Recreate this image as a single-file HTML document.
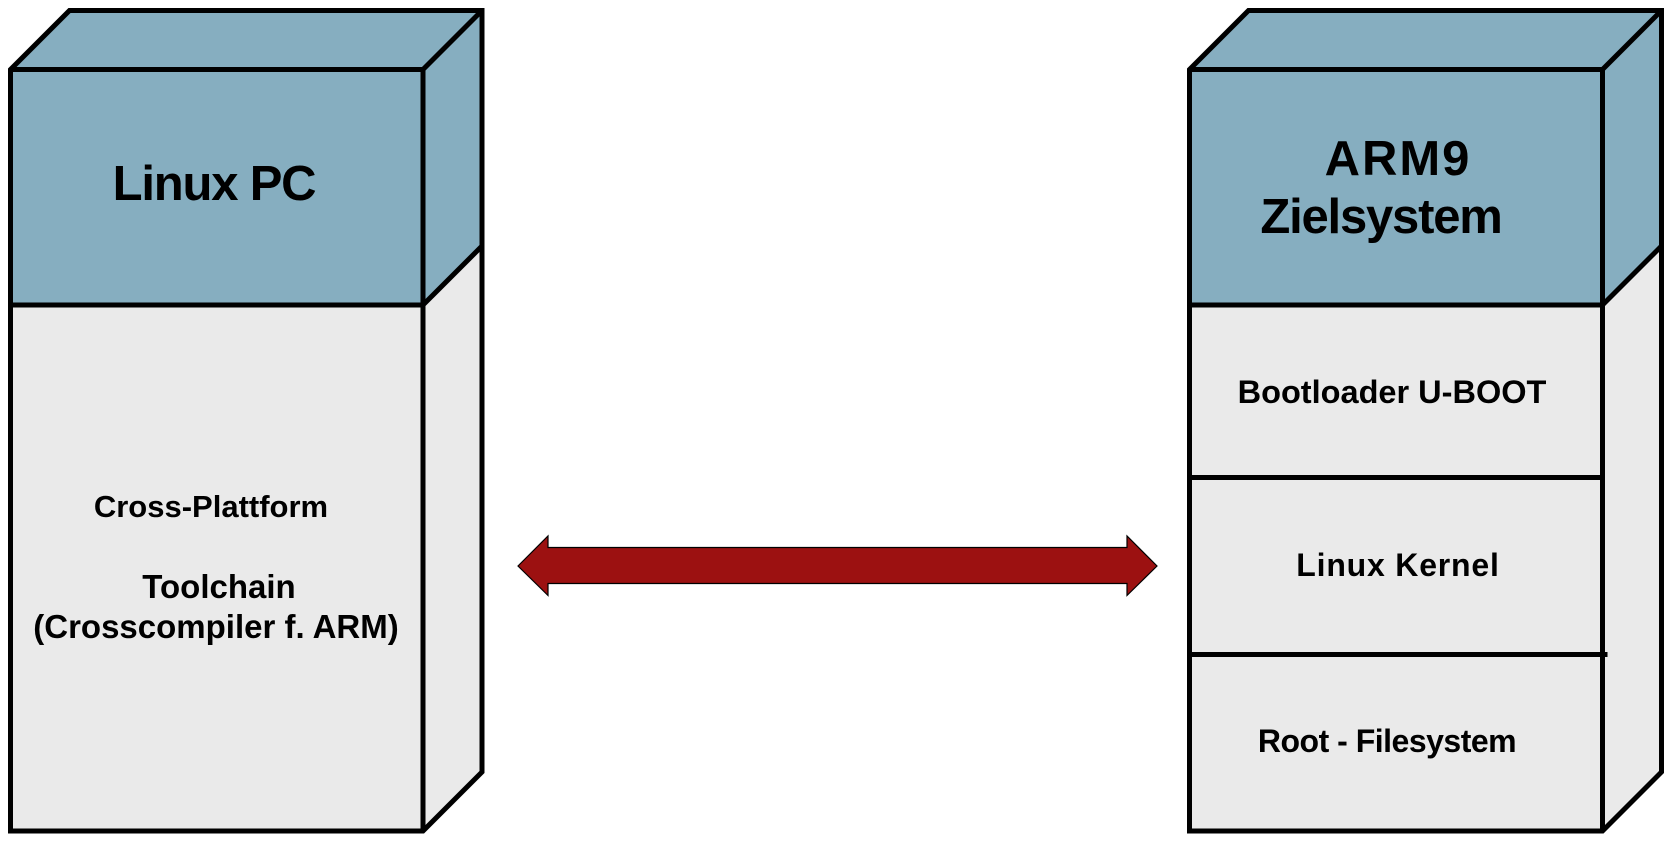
<!DOCTYPE html>
<html>
<head>
<meta charset="utf-8">
<style>
  html, body { margin: 0; padding: 0; background: #ffffff; }
  body { width: 1674px; height: 841px; overflow: hidden; }
  svg { display: block; }
  text { font-family: "Liberation Sans", Arial, sans-serif; font-weight: bold; fill: #000; }
</style>
</head>
<body>
<svg width="1674" height="841" viewBox="0 0 1674 841" xmlns="http://www.w3.org/2000/svg">
  <!-- ================= LEFT BOX: Linux PC ================= -->
  <g>
    <rect x="10.5" y="305" width="412.5" height="526" fill="#eaeaea"/>
    <rect x="10.5" y="69.5" width="412.5" height="235.5" fill="#86aec0"/>
    <polygon points="10.5,69.5 69.5,10.5 482,10.5 423,69.5" fill="#86aec0"/>
    <polygon points="423,69.5 482,10.5 482,246 423,305" fill="#86aec0"/>
    <polygon points="423,305 482,246 482,772 423,831" fill="#eaeaea"/>
    <g fill="none" stroke="#000" stroke-width="5" stroke-linejoin="miter">
      <polygon points="10.5,69.5 69.5,10.5 482,10.5 482,772 423,831 10.5,831"/>
      <polyline points="10.5,69.5 423,69.5 482,10.5"/>
      <line x1="423" y1="69.5" x2="423" y2="831"/>
      <line x1="10.5" y1="305" x2="423" y2="305"/>
      <line x1="423" y1="305" x2="482" y2="246"/>
    </g>
    <text x="214" y="200" font-size="49" letter-spacing="-1.2" text-anchor="middle">Linux PC</text>
    <text x="211" y="517" font-size="31" text-anchor="middle">Cross-Plattform</text>
    <text x="219" y="598" font-size="33" text-anchor="middle">Toolchain</text>
    <text x="216" y="638" font-size="33" text-anchor="middle">(Crosscompiler f. ARM)</text>
  </g>

  <!-- ================= ARROW ================= -->
  <polygon points="518,566 548,536 548,547.5 1127,547.5 1127,536 1157,566 1127,595.5 1127,583.5 548,583.5 548,595.5"
           fill="#9c1111" stroke="#000" stroke-width="1.2" stroke-linejoin="miter"/>

  <!-- ================= RIGHT BOX: ARM9 Zielsystem ================= -->
  <g>
    <rect x="1189.5" y="305" width="413" height="526" fill="#eaeaea"/>
    <rect x="1189.5" y="69.5" width="413" height="235.5" fill="#86aec0"/>
    <polygon points="1189.5,69.5 1248.5,10.5 1661.5,10.5 1602.5,69.5" fill="#86aec0"/>
    <polygon points="1602.5,69.5 1661.5,10.5 1661.5,246 1602.5,305" fill="#86aec0"/>
    <polygon points="1602.5,305 1661.5,246 1661.5,772 1602.5,831" fill="#eaeaea"/>
    <g fill="none" stroke="#000" stroke-width="5" stroke-linejoin="miter">
      <polygon points="1189.5,69.5 1248.5,10.5 1661.5,10.5 1661.5,772 1602.5,831 1189.5,831"/>
      <polyline points="1189.5,69.5 1602.5,69.5 1661.5,10.5"/>
      <line x1="1602.5" y1="69.5" x2="1602.5" y2="831"/>
      <line x1="1189.5" y1="305" x2="1602.5" y2="305"/>
      <line x1="1602.5" y1="305" x2="1661.5" y2="246"/>
      <line x1="1189.5" y1="477.5" x2="1602.5" y2="477.5"/>
      <line x1="1189.5" y1="654.5" x2="1607.5" y2="654.5"/>
    </g>
    <text x="1398" y="175" font-size="49" letter-spacing="2" text-anchor="middle">ARM9</text>
    <text x="1381" y="233" font-size="49" letter-spacing="-1.2" text-anchor="middle">Zielsystem</text>
    <text x="1392" y="403" font-size="32.5" text-anchor="middle">Bootloader U-BOOT</text>
    <text x="1398" y="576" font-size="32" letter-spacing="0.8" text-anchor="middle">Linux Kernel</text>
    <text x="1387" y="752" font-size="32" letter-spacing="-0.5" text-anchor="middle">Root - Filesystem</text>
  </g>
</svg>
</body>
</html>
